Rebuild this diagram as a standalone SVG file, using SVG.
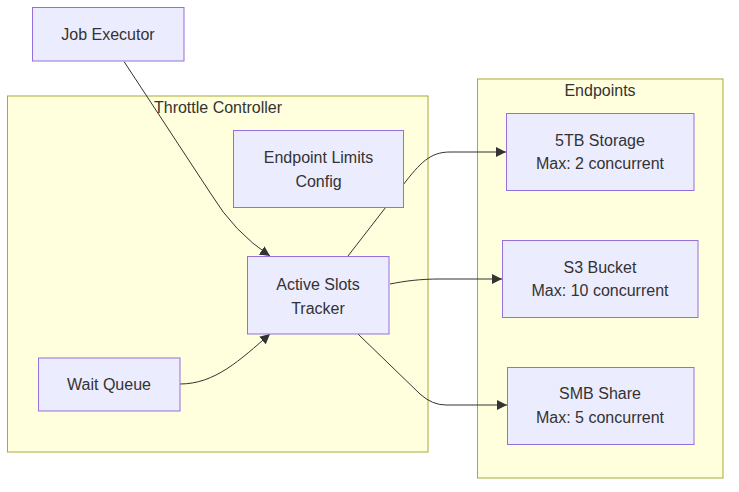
<svg xmlns="http://www.w3.org/2000/svg" width="739" height="492" viewBox="0 0 739 492">
<style>
text{font-family:"Liberation Sans",Arial,sans-serif;font-size:16px;fill:#333333;text-anchor:middle;dominant-baseline:central}
.node rect{fill:#ECECFF;stroke:#9370DB;stroke-width:1}
.cluster rect{fill:#ffffde;stroke:#aaaa33;stroke-width:1}
.edge{fill:none;stroke:#333333;stroke-width:1}
</style>
<defs>
<marker id="arrow" markerUnits="userSpaceOnUse" markerWidth="10" markerHeight="10" refX="10" refY="5" orient="auto" viewBox="0 0 10 10">
<path d="M0,0 L10,5 L0,10 z" fill="#333333"/>
</marker>
</defs>
<g id="clusters">
<g id="throttle-controller" class="cluster">
<rect x="7.5" y="96" width="420.5" height="356"/>
<text x="218" y="107">Throttle Controller</text>
</g>
<g id="endpoints" class="cluster">
<rect x="477.5" y="79" width="245.5" height="399"/>
<text x="600" y="90">Endpoints</text>
</g>
</g>
<g id="connectors">
<path class="edge" d="M124,61.5 L211,194 Q234,232 270,256" marker-end="url(#arrow)"/>
<path class="edge" d="M348,256 L403,185 C420,163 430,152 450,152 L506,152" marker-end="url(#arrow)"/>
<path class="edge" d="M390,284 C405,281 420,279 440,279 L502,279" marker-end="url(#arrow)"/>
<path class="edge" d="M358,334 L420,394 Q432,405 446,405 L507,405" marker-end="url(#arrow)"/>
<path class="edge" d="M180,384 C215,384 240,360 270,334" marker-end="url(#arrow)"/>
</g>
<g id="job-executor" class="node">
<rect x="32.5" y="7.5" width="151.5" height="53.5"/>
<text x="108" y="34">Job Executor</text>
</g>
<g id="endpoint-limits-config" class="node">
<rect x="233.5" y="130.5" width="170" height="77"/>
<text x="318.5" y="157">Endpoint Limits</text>
<text x="318.5" y="181">Config</text>
</g>
<g id="active-slots-tracker" class="node">
<rect x="247.5" y="256.5" width="141.5" height="77.5"/>
<text x="318" y="284">Active Slots</text>
<text x="318" y="308">Tracker</text>
</g>
<g id="wait-queue" class="node">
<rect x="38.5" y="358" width="141.5" height="53"/>
<text x="109" y="384">Wait Queue</text>
</g>
<g id="storage-5tb" class="node">
<rect x="506.5" y="113.5" width="187.5" height="77"/>
<text x="600" y="140">5TB Storage</text>
<text x="600" y="163">Max: 2 concurrent</text>
</g>
<g id="s3-bucket" class="node">
<rect x="502.5" y="240.5" width="195.5" height="77"/>
<text x="600" y="267">S3 Bucket</text>
<text x="600" y="290">Max: 10 concurrent</text>
</g>
<g id="smb-share" class="node">
<rect x="507.5" y="367.5" width="186.5" height="77"/>
<text x="600" y="393">SMB Share</text>
<text x="600" y="417">Max: 5 concurrent</text>
</g>
</svg>
